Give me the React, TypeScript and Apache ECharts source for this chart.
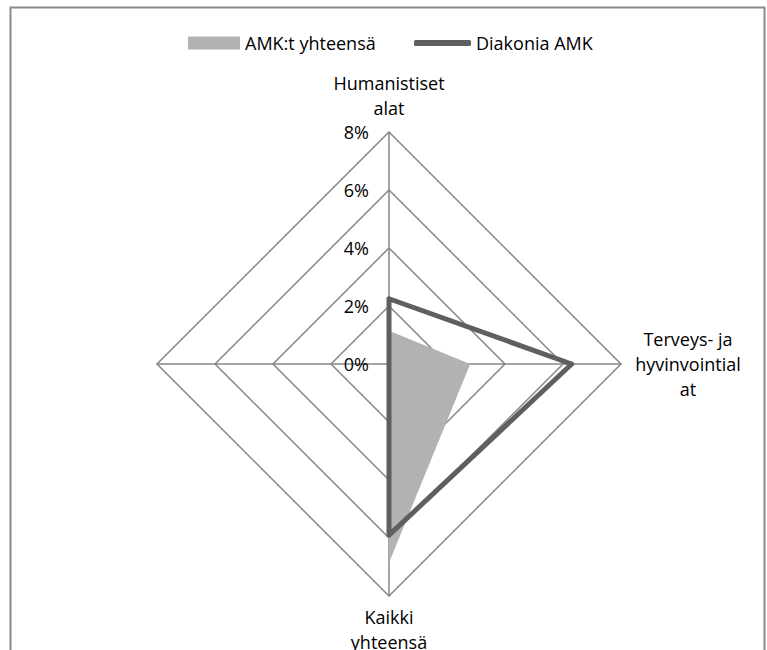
import React, { useEffect, useRef } from 'react';
import * as echarts from 'echarts';

// Indicators in ECharts radar order (counter-clockwise from top): top, left, bottom, right
const categories = ['Humanistiset\nalat', '', 'Kaikki\nyhteensä', 'Terveys- ja\nhyvinvointial\nat'];
const axisMin = 0;
const axisMax = 8;
const seriesNames = ['AMK:t yhteensä', 'Diakonia AMK'];
const amkValues = [1.15, 0, 6.85, 2.8];
const diakoniaValues = [2.25, 0, 5.9, 6.3];

const FONT = 'Open Sans';
const FS = 18;
const nameGaps = [12, 0, 8, 13];

export default function App() {
  const ref = useRef<HTMLDivElement>(null);
  useEffect(() => {
    if (!ref.current) return;
    const chart = echarts.init(ref.current, null, { renderer: 'svg' });
    const option: any = {
      animation: false,
      backgroundColor: '#ffffff',
      textStyle: { fontFamily: FONT },
      graphic: [
        {
          type: 'rect',
          shape: { x: 10.5, y: 7.5, width: 754, height: 720 },
          style: { fill: 'none', stroke: '#898989', lineWidth: 2 },
          silent: true,
        },
      ],
      legend: [
        {
          data: [{ name: seriesNames[0], icon: 'rect' }],
          left: 188,
          top: 34,
          padding: 0,
          itemWidth: 52,
          itemHeight: 13,
          itemGap: 0,
          textStyle: { color: '#000', fontSize: FS, fontFamily: FONT },
          selectedMode: false,
        },
        {
          data: [{ name: seriesNames[1], icon: 'roundRect' }],
          left: 414,
          top: 34,
          padding: 0,
          itemWidth: 57,
          itemHeight: 6,
          itemGap: 0,
          textStyle: { color: '#000', fontSize: FS, fontFamily: FONT },
          selectedMode: false,
        },
      ],
      radar: {
        center: [389, 364],
        radius: 232,
        startAngle: 90,
        splitNumber: 4,
        shape: 'polygon',
        indicator: categories.map((name, i) => ({
          name,
          min: axisMin,
          max: axisMax,
          nameGap: nameGaps[i],
          axisLabel: i === 0 ? { show: true } : { show: false },
        })),
        axisName: {
          color: '#000',
          fontSize: FS,
          fontFamily: FONT,
          lineHeight: 25,
          formatter: (name: string) =>
            name ? name.split('\n').map((l) => `{c|${l}}`).join('\n') : '',
          rich: {
            c: { width: 108, align: 'center', color: '#000', fontSize: FS, fontFamily: FONT, lineHeight: 25 },
          },
        },
        axisLine: { show: true, lineStyle: { color: '#868686', width: 1.5 } },
        splitLine: { show: true, lineStyle: { color: '#868686', width: 1.5 } },
        splitArea: { show: false },
        axisTick: { show: false },
        axisLabel: {
          show: false,
          color: '#000',
          fontSize: FS,
          fontFamily: FONT,
          margin: 20,
          formatter: '{value}%',
        },
      },
      series: [
        {
          type: 'radar',
          symbol: 'none',
          data: [
            {
              name: seriesNames[0],
              value: amkValues,
              itemStyle: { color: '#b2b2b2' },
              lineStyle: { width: 0, color: '#b2b2b2' },
              areaStyle: { color: '#b2b2b2', opacity: 1 },
            },
          ],
        },
        {
          type: 'radar',
          symbol: 'none',
          data: [
            {
              name: seriesNames[1],
              value: diakoniaValues,
              itemStyle: { color: '#5f5f5f' },
              lineStyle: { width: 5, color: '#5f5f5f', join: 'round', cap: 'round' },
            },
          ],
        },
      ],
    };
    chart.setOption(option);
    return () => chart.dispose();
  }, []);
  return (
    <div
      ref={ref}
      style={{ position: 'fixed', left: 0, top: 0, width: 767, height: 650 }}
    />
  );
}
